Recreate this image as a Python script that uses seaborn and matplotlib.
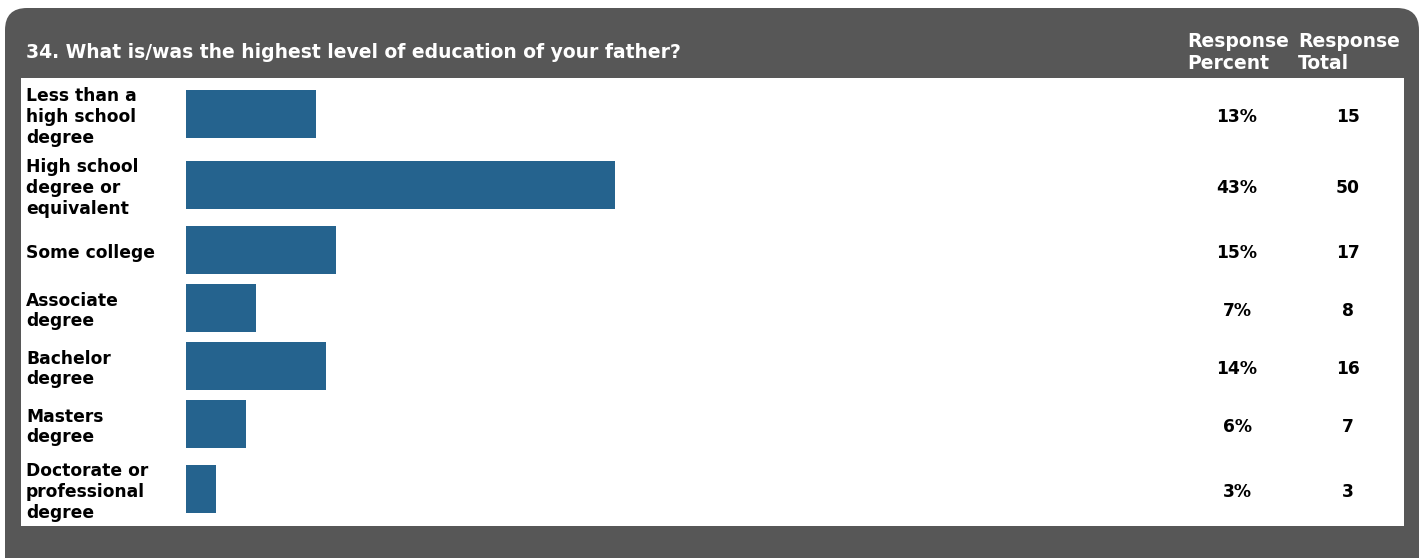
import numpy as np
import pandas as pd
import matplotlib
matplotlib.use("Agg")
import matplotlib.pyplot as plt
import seaborn as sns
from matplotlib.patches import FancyBboxPatch
from matplotlib.transforms import IdentityTransform, blended_transform_factory

# ---- survey results -------------------------------------------------------
question = "34. What is/was the highest level of education of your father?"
answers = [
    "Less than a\nhigh school\ndegree",
    "High school\ndegree or\nequivalent",
    "Some college",
    "Associate\ndegree",
    "Bachelor\ndegree",
    "Masters\ndegree",
    "Doctorate or\nprofessional\ndegree",
]
response_percent = [13, 43, 15, 7, 14, 6, 3]
response_total = [15, 50, 17, 8, 16, 7, 3]
col_headers = ["Response\nPercent", "Response\nTotal"]

# ---- styling / layout (pixels) ---------------------------------------------
W, H = 1422, 558
PANEL = "#575757"
BAR = "#25638E"
FONT = ["DejaVu Sans"]
BODY_PT = 12.3
HEAD_PT = 13.5

sns.set_theme(style="white")
plt.rcParams["font.family"] = FONT

fig = plt.figure(figsize=(W / 100, H / 100), dpi=100)
fig.patch.set_facecolor("white")

# dark rounded panel (bottom corners run off the canvas)
panel = FancyBboxPatch((5, -40), 1414, (H - 8) + 40,
                       boxstyle="round,pad=0,rounding_size=22",
                       transform=IdentityTransform(), facecolor=PANEL,
                       edgecolor="none", zorder=-5)
fig.add_artist(panel)

# white table body
inner_l, inner_r, inner_t, inner_b = 21, 1404, 78, 526
ax = fig.add_axes([inner_l / W, 1 - inner_b / H,
                   (inner_r - inner_l) / W, (inner_b - inner_t) / H])
ax.set_facecolor("white")

# row heights grow with the number of wrapped label lines
BAR_H, LINE_H, ROW_PAD = 48, 20.5, 10
n_lines = np.array([a.count("\n") + 1 for a in answers])
row_h = np.maximum(BAR_H + 10, n_lines * LINE_H + ROW_PAD)
row_top = np.concatenate([[0], np.cumsum(row_h)[:-1]])
row_center = row_top + row_h / 2

df = pd.DataFrame({"answer": answers, "pct": response_percent,
                   "total": response_total, "ypos": row_center})

min_gap = np.min(np.diff(np.sort(row_center)))
sns.barplot(data=df, x="pct", y="ypos", orient="y", native_scale=True,
            color=BAR, saturation=1, width=BAR_H / min_gap,
            errorbar=None, ax=ax, linewidth=0)

# percent axis: 0 % at x=186 px, ~9.97 px per percent point
X0_PX, PX_PER_PCT = 186, 9.97
ax.set_xlim((inner_l - X0_PX) / PX_PER_PCT, (inner_r - X0_PX) / PX_PER_PCT)
ax.set_ylim(inner_b - inner_t, 0)
ax.set_xticks([])
ax.set_yticks([])
ax.set_xlabel("")
ax.set_ylabel("")
for s in ax.spines.values():
    s.set_visible(False)

# text in pixel x / data y
tr = blended_transform_factory(IdentityTransform(), ax.transData)
for _, r in df.iterrows():
    y = r["ypos"] + 3
    ax.text(26, y, r["answer"], transform=tr, ha="left", va="center",
            fontsize=BODY_PT, fontweight="bold", color="black",
            linespacing=1.2)
    ax.text(1237, y, f"{r['pct']}%", transform=tr, ha="center",
            va="center", fontsize=BODY_PT, fontweight="bold", color="black")
    ax.text(1348, y, f"{r['total']}", transform=tr, ha="center",
            va="center", fontsize=BODY_PT, fontweight="bold", color="black")

# header row on the dark panel
fig.text(26, H - 53, question, transform=IdentityTransform(), ha="left",
         va="center", fontsize=HEAD_PT, fontweight="bold", color="white")
for x_px, hdr in zip([1187, 1298], col_headers):
    fig.text(x_px, H - 52.5, hdr, transform=IdentityTransform(), ha="left",
             va="center", fontsize=HEAD_PT, fontweight="bold", color="white",
             linespacing=1.15)

fig.savefig("out.png", dpi=100, facecolor=fig.get_facecolor())
